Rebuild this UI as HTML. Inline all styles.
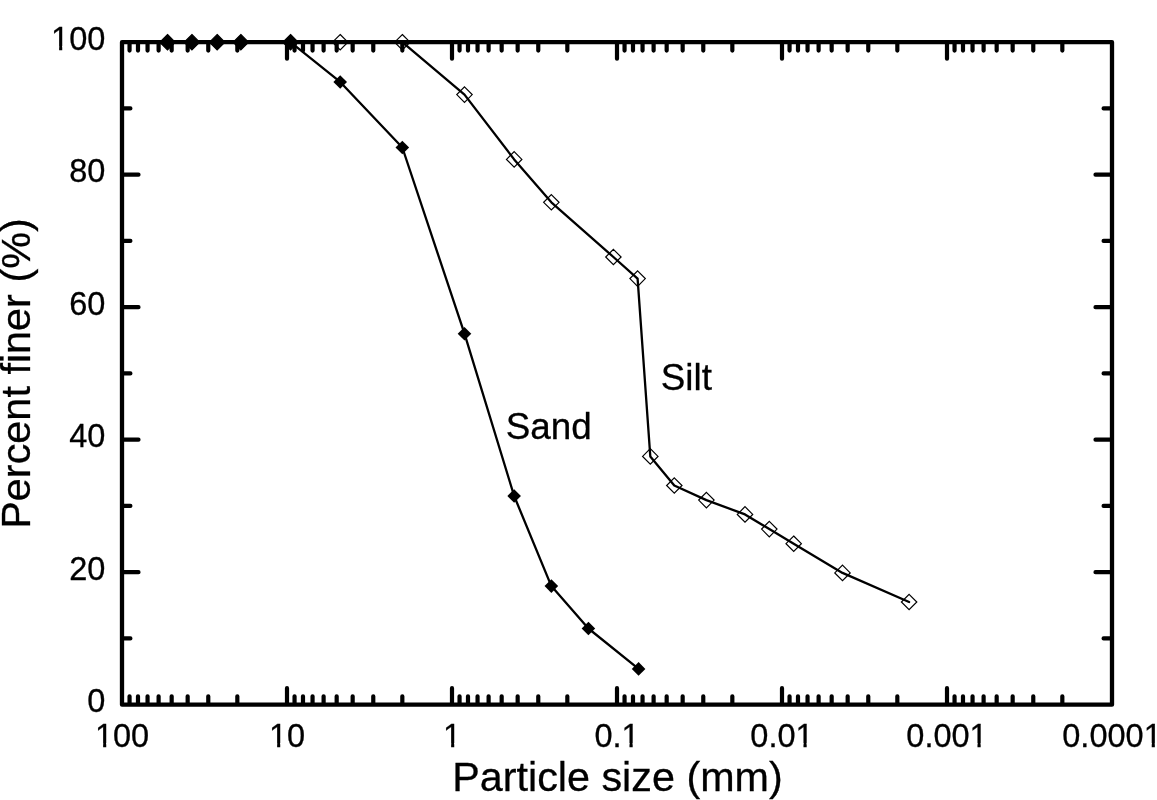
<!DOCTYPE html>
<html lang="en"><head><meta charset="utf-8"><title>Particle size distribution</title>
<style>html,body{margin:0;padding:0;background:#fff}body{width:1157px;height:800px;overflow:hidden}svg{display:block}text{font-family:"Liberation Sans",Arial,Helvetica,sans-serif;fill:#000;stroke:#000;stroke-width:.3px}</style></head><body>
<svg width="1157" height="800" viewBox="0 0 1157 800">
<rect width="1157" height="800" fill="#fff"/>
<path d="M237.33 703.7V696.3M237.33 43.2V50.6M208.27 703.7V696.3M208.27 43.2V50.6M187.66 703.7V696.3M187.66 43.2V50.6M171.67 703.7V696.3M171.67 43.2V50.6M158.61 703.7V696.3M158.61 43.2V50.6M147.56 703.7V696.3M147.56 43.2V50.6M137.99 703.7V696.3M137.99 43.2V50.6M129.55 703.7V696.3M129.55 43.2V50.6M287 703.7V688.2M287 43.2V58.7M402.33 703.7V696.3M402.33 43.2V50.6M373.27 703.7V696.3M373.27 43.2V50.6M352.66 703.7V696.3M352.66 43.2V50.6M336.67 703.7V696.3M336.67 43.2V50.6M323.61 703.7V696.3M323.61 43.2V50.6M312.56 703.7V696.3M312.56 43.2V50.6M302.99 703.7V696.3M302.99 43.2V50.6M294.55 703.7V696.3M294.55 43.2V50.6M452 703.7V688.2M452 43.2V58.7M567.33 703.7V696.3M567.33 43.2V50.6M538.27 703.7V696.3M538.27 43.2V50.6M517.66 703.7V696.3M517.66 43.2V50.6M501.67 703.7V696.3M501.67 43.2V50.6M488.61 703.7V696.3M488.61 43.2V50.6M477.56 703.7V696.3M477.56 43.2V50.6M467.99 703.7V696.3M467.99 43.2V50.6M459.55 703.7V696.3M459.55 43.2V50.6M617 703.7V688.2M617 43.2V58.7M732.33 703.7V696.3M732.33 43.2V50.6M703.27 703.7V696.3M703.27 43.2V50.6M682.66 703.7V696.3M682.66 43.2V50.6M666.67 703.7V696.3M666.67 43.2V50.6M653.61 703.7V696.3M653.61 43.2V50.6M642.56 703.7V696.3M642.56 43.2V50.6M632.99 703.7V696.3M632.99 43.2V50.6M624.55 703.7V696.3M624.55 43.2V50.6M782 703.7V688.2M782 43.2V58.7M897.33 703.7V696.3M897.33 43.2V50.6M868.27 703.7V696.3M868.27 43.2V50.6M847.66 703.7V696.3M847.66 43.2V50.6M831.67 703.7V696.3M831.67 43.2V50.6M818.61 703.7V696.3M818.61 43.2V50.6M807.56 703.7V696.3M807.56 43.2V50.6M797.99 703.7V696.3M797.99 43.2V50.6M789.55 703.7V696.3M789.55 43.2V50.6M947 703.7V688.2M947 43.2V58.7M1062.33 703.7V696.3M1062.33 43.2V50.6M1033.27 703.7V696.3M1033.27 43.2V50.6M1012.66 703.7V696.3M1012.66 43.2V50.6M996.67 703.7V696.3M996.67 43.2V50.6M983.61 703.7V696.3M983.61 43.2V50.6M972.56 703.7V696.3M972.56 43.2V50.6M962.99 703.7V696.3M962.99 43.2V50.6M954.55 703.7V696.3M954.55 43.2V50.6M123 638.45H130.4M1111 638.45H1103.6M123 572.2H138.5M1111 572.2H1095.5M123 505.95H130.4M1111 505.95H1103.6M123 439.7H138.5M1111 439.7H1095.5M123 373.45H130.4M1111 373.45H1103.6M123 307.2H138.5M1111 307.2H1095.5M123 240.95H130.4M1111 240.95H1103.6M123 174.7H138.5M1111 174.7H1095.5M123 108.45H130.4M1111 108.45H1103.6" stroke="#000" stroke-width="4.2" stroke-linecap="round" fill="none"/>
<rect x="122" y="42.2" width="990" height="662.5" fill="none" stroke="#000" stroke-width="4.3" stroke-linejoin="round"/>
<polyline points="167.49,42.2 191.9,42.2 217.16,42.2 240.82,42.2 290.52,42.2 340.19,81.95 402.33,147.5 464.49,333.7 514.16,496.01 551.34,586.1 588.42,628.51 638.58,668.9" fill="none" stroke="#000" stroke-width="2.3" stroke-linejoin="round" stroke-linecap="round"/>
<polyline points="167.49,42.2 191.9,42.2 217.16,42.2 240.82,42.2 290.52,42.2 340.19,42.2 402.33,42.2 464.49,94.6 514.16,159.4 551.34,202.3 613.4,257 637.6,278.6 650.3,456.4 674.3,485.5 706.4,500.1 745,514.4 769.3,529.1 793.7,543.7 842.5,572.9 909.1,602" fill="none" stroke="#000" stroke-width="2.3" stroke-linejoin="round" stroke-linecap="round"/>
<path d="M167.49 35.4L174.29 42.2L167.49 49L160.69 42.2Z" fill="#000"/>
<path d="M191.9 35.4L198.7 42.2L191.9 49L185.1 42.2Z" fill="#000"/>
<path d="M217.16 35.4L223.96 42.2L217.16 49L210.36 42.2Z" fill="#000"/>
<path d="M240.82 35.4L247.62 42.2L240.82 49L234.02 42.2Z" fill="#000"/>
<path d="M290.52 35.4L297.32 42.2L290.52 49L283.72 42.2Z" fill="#000"/>
<path d="M340.19 75.15L346.99 81.95L340.19 88.75L333.39 81.95Z" fill="#000"/>
<path d="M402.33 140.7L409.13 147.5L402.33 154.3L395.53 147.5Z" fill="#000"/>
<path d="M464.49 326.9L471.29 333.7L464.49 340.5L457.69 333.7Z" fill="#000"/>
<path d="M514.16 489.21L520.96 496.01L514.16 502.81L507.36 496.01Z" fill="#000"/>
<path d="M551.34 579.3L558.14 586.1L551.34 592.9L544.54 586.1Z" fill="#000"/>
<path d="M588.42 621.71L595.22 628.51L588.42 635.31L581.62 628.51Z" fill="#000"/>
<path d="M638.58 662.1L645.38 668.9L638.58 675.7L631.78 668.9Z" fill="#000"/>
<path d="M167.49 34.5L175.19 42.2L167.49 49.9L159.79 42.2Z" fill="#000" stroke="#000" stroke-width="1.2"/>
<path d="M191.9 34.5L199.6 42.2L191.9 49.9L184.2 42.2Z" fill="#000" stroke="#000" stroke-width="1.2"/>
<path d="M217.16 34.5L224.86 42.2L217.16 49.9L209.46 42.2Z" fill="#000" stroke="#000" stroke-width="1.2"/>
<path d="M240.82 34.5L248.52 42.2L240.82 49.9L233.12 42.2Z" fill="#000" stroke="#000" stroke-width="1.2"/>
<path d="M290.52 34.5L298.22 42.2L290.52 49.9L282.82 42.2Z" fill="#000" stroke="#000" stroke-width="1.2"/>
<path d="M340.19 34.5L347.89 42.2L340.19 49.9L332.49 42.2Z" fill="none" stroke="#000" stroke-width="1.2"/>
<path d="M402.33 34.5L410.03 42.2L402.33 49.9L394.63 42.2Z" fill="none" stroke="#000" stroke-width="1.2"/>
<path d="M464.49 86.9L472.19 94.6L464.49 102.3L456.79 94.6Z" fill="none" stroke="#000" stroke-width="1.2"/>
<path d="M514.16 151.7L521.86 159.4L514.16 167.1L506.46 159.4Z" fill="none" stroke="#000" stroke-width="1.2"/>
<path d="M551.34 194.6L559.04 202.3L551.34 210L543.64 202.3Z" fill="none" stroke="#000" stroke-width="1.2"/>
<path d="M613.4 249.3L621.1 257L613.4 264.7L605.7 257Z" fill="none" stroke="#000" stroke-width="1.2"/>
<path d="M637.6 270.9L645.3 278.6L637.6 286.3L629.9 278.6Z" fill="none" stroke="#000" stroke-width="1.2"/>
<path d="M650.3 448.7L658 456.4L650.3 464.1L642.6 456.4Z" fill="none" stroke="#000" stroke-width="1.2"/>
<path d="M674.3 477.8L682 485.5L674.3 493.2L666.6 485.5Z" fill="none" stroke="#000" stroke-width="1.2"/>
<path d="M706.4 492.4L714.1 500.1L706.4 507.8L698.7 500.1Z" fill="none" stroke="#000" stroke-width="1.2"/>
<path d="M745 506.7L752.7 514.4L745 522.1L737.3 514.4Z" fill="none" stroke="#000" stroke-width="1.2"/>
<path d="M769.3 521.4L777 529.1L769.3 536.8L761.6 529.1Z" fill="none" stroke="#000" stroke-width="1.2"/>
<path d="M793.7 536L801.4 543.7L793.7 551.4L786 543.7Z" fill="none" stroke="#000" stroke-width="1.2"/>
<path d="M842.5 565.2L850.2 572.9L842.5 580.6L834.8 572.9Z" fill="none" stroke="#000" stroke-width="1.2"/>
<path d="M909.1 594.3L916.8 602L909.1 609.7L901.4 602Z" fill="none" stroke="#000" stroke-width="1.2"/>
<text x="105.3" y="712.1" font-size="32.5" text-anchor="end">0</text>
<text x="105.3" y="579.6" font-size="32.5" text-anchor="end">20</text>
<text x="105.3" y="447.1" font-size="32.5" text-anchor="end">40</text>
<text x="105.3" y="314.6" font-size="32.5" text-anchor="end">60</text>
<text x="105.3" y="182.1" font-size="32.5" text-anchor="end">80</text>
<text x="105.3" y="49.6" font-size="32.5" text-anchor="end">100</text>
<text x="122" y="746.6" font-size="32.5" text-anchor="middle">100</text>
<text x="287" y="746.6" font-size="32.5" text-anchor="middle">10</text>
<text x="452" y="746.6" font-size="32.5" text-anchor="middle">1</text>
<text x="617" y="746.6" font-size="32.5" text-anchor="middle">0.1</text>
<text x="782" y="746.6" font-size="32.5" text-anchor="middle">0.01</text>
<text x="947" y="746.6" font-size="32.5" text-anchor="middle">0.001</text>
<text x="1112" y="746.6" font-size="32.5" text-anchor="middle">0.0001</text>
<rect x="96.0" y="743.0" width="7.13" height="5.0" fill="#fff"/>
<rect x="106.24" y="743.0" width="6.76" height="5.0" fill="#fff"/>
<rect x="270.0" y="743.0" width="7.13" height="5.0" fill="#fff"/>
<rect x="280.24" y="743.0" width="6.76" height="5.0" fill="#fff"/>
<rect x="444.0" y="743.0" width="7.13" height="5.0" fill="#fff"/>
<rect x="454.24" y="743.0" width="6.76" height="5.0" fill="#fff"/>
<rect x="623.0" y="743.0" width="6.47" height="5.0" fill="#fff"/>
<rect x="632.68" y="743.0" width="6.32" height="5.0" fill="#fff"/>
<rect x="797.0" y="743.0" width="6.47" height="5.0" fill="#fff"/>
<rect x="806.68" y="743.0" width="6.32" height="5.0" fill="#fff"/>
<rect x="971.0" y="743.0" width="6.47" height="5.0" fill="#fff"/>
<rect x="980.68" y="743.0" width="6.32" height="5.0" fill="#fff"/>
<rect x="1145.0" y="743.0" width="6.71" height="5.0" fill="#fff"/>
<rect x="1154.84" y="743.0" width="3.16" height="5.0" fill="#fff"/>
<rect x="52.0" y="46.0" width="7.13" height="5.0" fill="#fff"/>
<rect x="62.24" y="46.0" width="6.76" height="5.0" fill="#fff"/>
<text x="617.5" y="791.4" font-size="41.3" text-anchor="middle">Particle size (mm)</text>
<text transform="translate(30 373.5) rotate(-90)" font-size="41.4" text-anchor="middle">Percent finer (%)</text>
<text x="505.8" y="438.8" font-size="36.8">Sand</text>
<text x="660.8" y="389.6" font-size="36.8">Silt</text>
</svg></body></html>
